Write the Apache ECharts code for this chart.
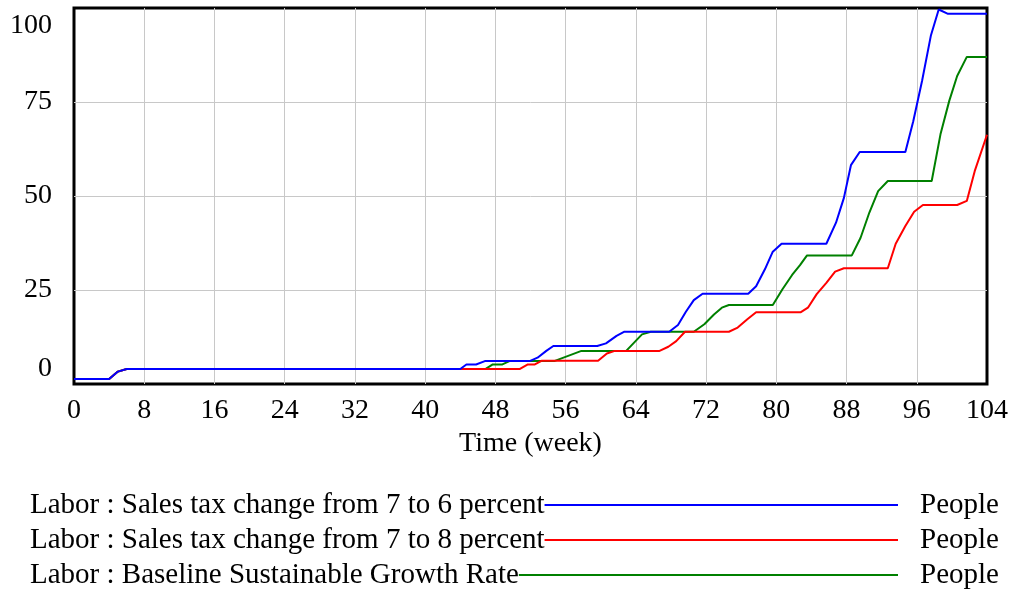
<!DOCTYPE html>
<html>
<head>
<meta charset="utf-8">
<title>Labor</title>
<script src="https://cdn.jsdelivr.net/npm/echarts@6/dist/echarts.min.js"></script>
<style>
  html, body { margin: 0; padding: 0; background: #fff; }
  #chart { width: 1016px; height: 592px; }
</style>
</head>
<body>
<div id="chart"></div>
<script>
// axis ticks
const weekTicks = [0, 8, 16, 24, 32, 40, 48, 56, 64, 72, 80, 88, 96, 104]
const peopleTicks = [0, 25, 50, 75, 100]

// Labor : Sales tax change from 7 to 6 percent
const weeks6 = [0, 4, 5, 6, 44, 44.7, 45.8, 46.8, 51.9, 52.8, 53.8, 54.6, 59.6, 60.6, 61.8, 62.7, 67.8, 68.8, 69.7, 70.6, 71.6, 76.8, 77.7, 78.7, 79.6, 80.6, 85.7, 86.8, 87.7, 88.5, 89.5, 94.7, 95.6, 96.6, 97.6, 98.5, 99.5, 104]
const labor6 = [1.3, 1.3, 3.3, 4.0, 4.0, 5.2, 5.2, 6.1, 6.1, 7.0, 8.8, 10.1, 10.1, 10.8, 12.8, 13.9, 13.9, 15.7, 19.2, 22.3, 24.0, 24.0, 26.0, 30.5, 35.2, 37.3, 37.3, 42.9, 49.5, 58.2, 61.7, 61.7, 69.9, 80.6, 92.6, 99.6, 98.5, 98.5]

// Labor : Sales tax change from 7 to 8 percent
const weeks8 = [0, 4, 5, 6, 50.8, 51.7, 52.5, 53.3, 59.7, 60.7, 61.6, 66.7, 67.7, 68.6, 69.6, 74.6, 75.6, 76.7, 77.7, 82.8, 83.6, 84.6, 85.7, 86.7, 87.7, 92.7, 93.6, 94.7, 95.7, 96.7, 100.6, 101.7, 102.6, 104]
const labor8 = [1.3, 1.3, 3.3, 4.0, 4.0, 5.2, 5.2, 6.2, 6.2, 8.1, 8.8, 8.8, 9.9, 11.4, 13.9, 13.9, 15.0, 17.2, 19.1, 19.1, 20.3, 23.9, 26.9, 29.9, 30.8, 30.8, 37.3, 42.0, 45.8, 47.6, 47.6, 48.7, 56.6, 66.3]

// Labor : Baseline Sustainable Growth Rate
const weeksBase = [0, 4, 5, 6, 46.9, 47.7, 48.8, 49.6, 54.7, 57.8, 62.9, 63.8, 64.7, 65.7, 70.6, 71.8, 72.9, 73.8, 74.6, 79.6, 80.7, 81.8, 82.7, 83.5, 88.6, 89.6, 90.6, 91.6, 92.7, 97.7, 98.7, 99.7, 100.6, 101.7, 104]
const laborBase = [1.3, 1.3, 3.3, 4.0, 4.0, 5.2, 5.2, 6.1, 6.1, 8.8, 8.8, 11.0, 13.2, 13.9, 13.9, 15.9, 18.5, 20.3, 21.0, 21.0, 25.2, 29.0, 31.6, 34.2, 34.2, 38.9, 45.6, 51.3, 54.0, 54.0, 66.4, 75.3, 81.9, 87.0, 87.0]

const legendNames = [
  'Labor : Sales tax change from 7 to 6 percent',
  'Labor : Sales tax change from 7 to 8 percent',
  'Labor : Baseline Sustainable Growth Rate'
]
const unitName = 'People'
const colors = ['#0000ff', '#ff0000', '#008000']

const FONT = '"Liberation Serif", "Times New Roman", serif'

function pairs(xs, ys) {
  return xs.map((x, i) => [x, ys[i]])
}

function initSeries(name, data, color) {
  return {
    name,
    data,
    type: 'line',
    showSymbol: false,
    smooth: false,
    lineStyle: { color, width: 2 },
    itemStyle: { color }
  }
}

// legend drawn by hand: name, line, unit
function initLegend() {
  const ctx = document.createElement('canvas').getContext('2d')
  ctx.font = '29px ' + FONT
  const items = []
  legendNames.forEach((name, i) => {
    const y = 505 + i * 35
    const w = ctx.measureText(name).width
    items.push({
      type: 'text',
      x: 30,
      y,
      style: { text: name, font: '29px ' + FONT, fill: '#000', verticalAlign: 'middle' }
    })
    items.push({
      type: 'line',
      shape: { x1: 30 + w, y1: y, x2: 898, y2: y },
      style: { stroke: colors[i], lineWidth: 2 }
    })
    items.push({
      type: 'text',
      x: 920,
      y,
      style: { text: unitName, font: '29px ' + FONT, fill: '#000', verticalAlign: 'middle' }
    })
  })
  return items
}

const chart = echarts.init(document.getElementById('chart'))

// green first so red and blue sit on top
const series = [
  initSeries(legendNames[2], pairs(weeksBase, laborBase), colors[2]),
  initSeries(legendNames[1], pairs(weeks8, labor8), colors[1]),
  initSeries(legendNames[0], pairs(weeks6, labor6), colors[0])
]

const option = {
  animation: false,
  backgroundColor: '#fff',
  grid: {
    show: true,
    left: 74,
    right: 29,
    top: 8,
    bottom: 208,
    borderColor: '#000',
    borderWidth: 3
  },
  xAxis: {
    type: 'value',
    min: weekTicks[0],
    max: weekTicks[weekTicks.length - 1],
    interval: weekTicks[1] - weekTicks[0],
    name: 'Time (week)',
    nameLocation: 'middle',
    nameGap: 42,
    nameTextStyle: { fontFamily: FONT, fontSize: 28, color: '#000' },
    axisLine: { show: false },
    axisTick: { show: false },
    axisLabel: { margin: 13, fontFamily: FONT, fontSize: 28, color: '#000' },
    splitLine: {
      showMinLine: false,
      showMaxLine: false,
      lineStyle: { color: '#c8c8c8', width: 1 }
    }
  },
  yAxis: {
    type: 'value',
    min: peopleTicks[0],
    max: peopleTicks[peopleTicks.length - 1],
    interval: peopleTicks[1] - peopleTicks[0],
    axisLine: { show: false },
    axisTick: { show: false },
    axisLabel: {
      margin: 22,
      fontFamily: FONT,
      fontSize: 28,
      color: '#000',
      formatter: function(v) {
        if (v === peopleTicks[peopleTicks.length - 1]) return '{top|' + v + '}'
        if (v === peopleTicks[0]) return '{bottom|' + v + '}'
        return String(v)
      },
      rich: {
        top: { padding: [35, 0, 0, 0], fontFamily: FONT, fontSize: 28, color: '#000' },
        bottom: { padding: [0, 0, 30, 0], fontFamily: FONT, fontSize: 28, color: '#000' }
      }
    },
    splitLine: {
      showMinLine: false,
      showMaxLine: false,
      lineStyle: { color: '#c8c8c8', width: 1 }
    }
  },
  graphic: initLegend(),
  series
}

chart.setOption(option)
</script>
</body>
</html>
